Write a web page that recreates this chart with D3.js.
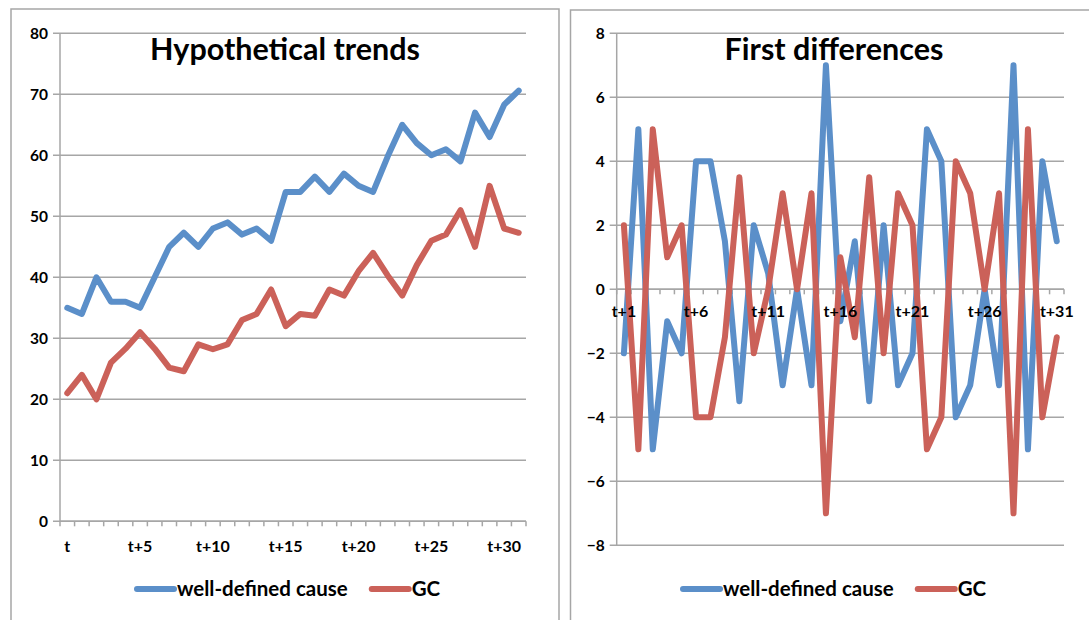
<!DOCTYPE html>
<html>
<head>
<meta charset="utf-8">
<script src="https://cdn.jsdelivr.net/npm/d3@7"></script>
<style>
  html, body { margin: 0; padding: 0; background: #fff; }
  svg { display: block; }
  text { font-family: Lato, "Open Sans", sans-serif; font-weight: bold; fill: #000; }
</style>
</head>
<body>
<svg id="chart" width="1089" height="620"></svg>
<script>
// Levels, periods t .. t+31
const trendPeriods = ["t","t+1","t+2","t+3","t+4","t+5","t+6","t+7","t+8","t+9","t+10",
  "t+11","t+12","t+13","t+14","t+15","t+16","t+17","t+18","t+19","t+20",
  "t+21","t+22","t+23","t+24","t+25","t+26","t+27","t+28","t+29","t+30","t+31"];
const trendCause = [35, 34, 40, 36, 36, 35, 40, 45, 47.3, 45, 48, 49, 47, 48, 46, 54, 54, 56.5,
  54, 57, 55, 54, 59.8, 65, 62, 60, 61, 59, 67, 63, 68.3, 70.6];
const trendGC = [21, 24, 20, 26, 28.3, 31, 28.3, 25.2, 24.6, 29, 28.2, 29, 33, 34, 38, 32, 34, 33.7,
  38, 37, 41, 44, 40.3, 37, 42, 46, 47, 51, 45, 55, 48, 47.3];
const trendTicks = [0, 10, 20, 30, 40, 50, 60, 70, 80];

// First differences, periods t+1 .. t+31
const diffPeriods = trendPeriods.slice(1);
const diffCause = [-2, 5, -5, -1, -2, 4, 4, 1.5, -3.5, 2, 0.5, -3, 0, -3, 7, -1, 1.5, -3.5, 2, -3,
  -2, 5, 4, -4, -3, 0, -3, 7, -5, 4, 1.5];
const diffGC = [2, -5, 5, 1, 2, -4, -4, -1.5, 3.5, -2, 0, 3, 0, 3, -7, 1, -1.5, 3.5, -2, 3,
  2, -5, -4, 4, 3, 0, 3, -7, 5, -4, -1.5];
const diffTicks = [-8, -6, -4, -2, 0, 2, 4, 6, 8];

const seriesNames = ["well-defined cause", "GC"];
const seriesColors = ["#5b8fc9", "#cb6159"];
const gridColor = "#a6a6a6";

const svg = d3.select("#chart");

function drawPanel(cfg) {
  const g = svg.append("g");

  // panel frame
  g.append("rect")
    .attr("x", cfg.frame[0]).attr("y", cfg.frame[1])
    .attr("width", cfg.frame[2]).attr("height", cfg.frame[3])
    .attr("fill", "#fff").attr("stroke", gridColor).attr("stroke-width", 1.5);

  const x = d3.scaleBand().domain(cfg.periods).range([cfg.left, cfg.right]).padding(0);
  const y = d3.scaleLinear().domain(cfg.yDomain).range([cfg.bottom, cfg.top]);
  const cx = d => x(d) + x.bandwidth() / 2;

  // horizontal gridlines with short ticks left of the value axis
  g.append("g").selectAll("line").data(cfg.yTicks).join("line")
    .attr("x1", cfg.left - 7).attr("x2", cfg.right)
    .attr("y1", d => y(d)).attr("y2", d => y(d))
    .attr("stroke", gridColor).attr("stroke-width", 1.5);

  // value axis
  const yAxis = d3.axisLeft(y).tickValues(cfg.yTicks).tickSize(0).tickPadding(0);
  const ya = g.append("g").attr("transform", `translate(${cfg.left - 12},0)`).call(yAxis);
  ya.select(".domain").remove();
  ya.selectAll("text").attr("font-size", 15.5).attr("font-family", "Lato, sans-serif")
    .attr("font-weight", "bold").attr("fill", "#000");

  g.append("line")
    .attr("x1", cfg.left).attr("x2", cfg.left)
    .attr("y1", y(cfg.yDomain[1])).attr("y2", y(cfg.yDomain[0]))
    .attr("stroke", gridColor).attr("stroke-width", 1.5);

  // category axis line and tick marks at category boundaries
  const axisY = y(cfg.xAxisAt);
  const bounds = cfg.periods.map(p => x(p)).concat([cfg.right]);
  g.append("line").attr("x1", cfg.left).attr("x2", cfg.right)
    .attr("y1", axisY).attr("y2", axisY)
    .attr("stroke", gridColor).attr("stroke-width", 1.5);
  g.append("g").selectAll("line").data(bounds).join("line")
    .attr("x1", d => d).attr("x2", d => d)
    .attr("y1", axisY).attr("y2", axisY + 5)
    .attr("stroke", gridColor).attr("stroke-width", 1.5);

  // series lines
  const line = d3.line().x((d, i) => cx(cfg.periods[i])).y(d => y(d));
  cfg.series.forEach((vals, k) => {
    g.append("path").datum(vals)
      .attr("d", line).attr("fill", "none")
      .attr("stroke", seriesColors[k]).attr("stroke-width", 6)
      .attr("stroke-linejoin", "round").attr("stroke-linecap", "round");
  });

  // category labels every fifth period, drawn above the lines
  g.append("g").selectAll("text")
    .data(cfg.periods.filter((p, i) => i % 5 === 0)).join("text")
    .attr("x", d => cx(d)).attr("y", axisY + cfg.labelOffset)
    .attr("text-anchor", "middle").attr("font-size", 16)
    .text(d => d);

  // title
  g.append("text").attr("x", cfg.titleX).attr("y", 60)
    .attr("text-anchor", "middle").attr("font-size", 30.5)
    .text(cfg.title);

  // legend
  const lg = g.append("g").attr("transform", `translate(${cfg.legendX},589)`);
  let off = 0;
  seriesNames.forEach((name, k) => {
    lg.append("line").attr("x1", off).attr("x2", off + 37).attr("y1", 0).attr("y2", 0)
      .attr("stroke", seriesColors[k]).attr("stroke-width", 6).attr("stroke-linecap", "round");
    const t = lg.append("text").attr("x", off + 40).attr("y", 7)
      .attr("font-size", 20.5).text(name);
    off += 40 + t.node().getComputedTextLength() + 24;
  });
}

drawPanel({
  frame: [11, 9, 548, 640],
  periods: trendPeriods, series: [trendCause, trendGC],
  yDomain: [0, 80], yTicks: trendTicks, xAxisAt: 0,
  left: 60, right: 526, top: 33.3, bottom: 521.3,
  labelOffset: 31, title: "Hypothetical trends", titleX: 285, legendX: 137
});

drawPanel({
  frame: [570.5, 10, 540, 640],
  periods: diffPeriods, series: [diffCause, diffGC],
  yDomain: [-8, 8], yTicks: diffTicks, xAxisAt: 0,
  left: 616.7, right: 1064, top: 33.3, bottom: 545.3,
  labelOffset: 28, title: "First differences", titleX: 834, legendX: 683
});
</script>
</body>
</html>
